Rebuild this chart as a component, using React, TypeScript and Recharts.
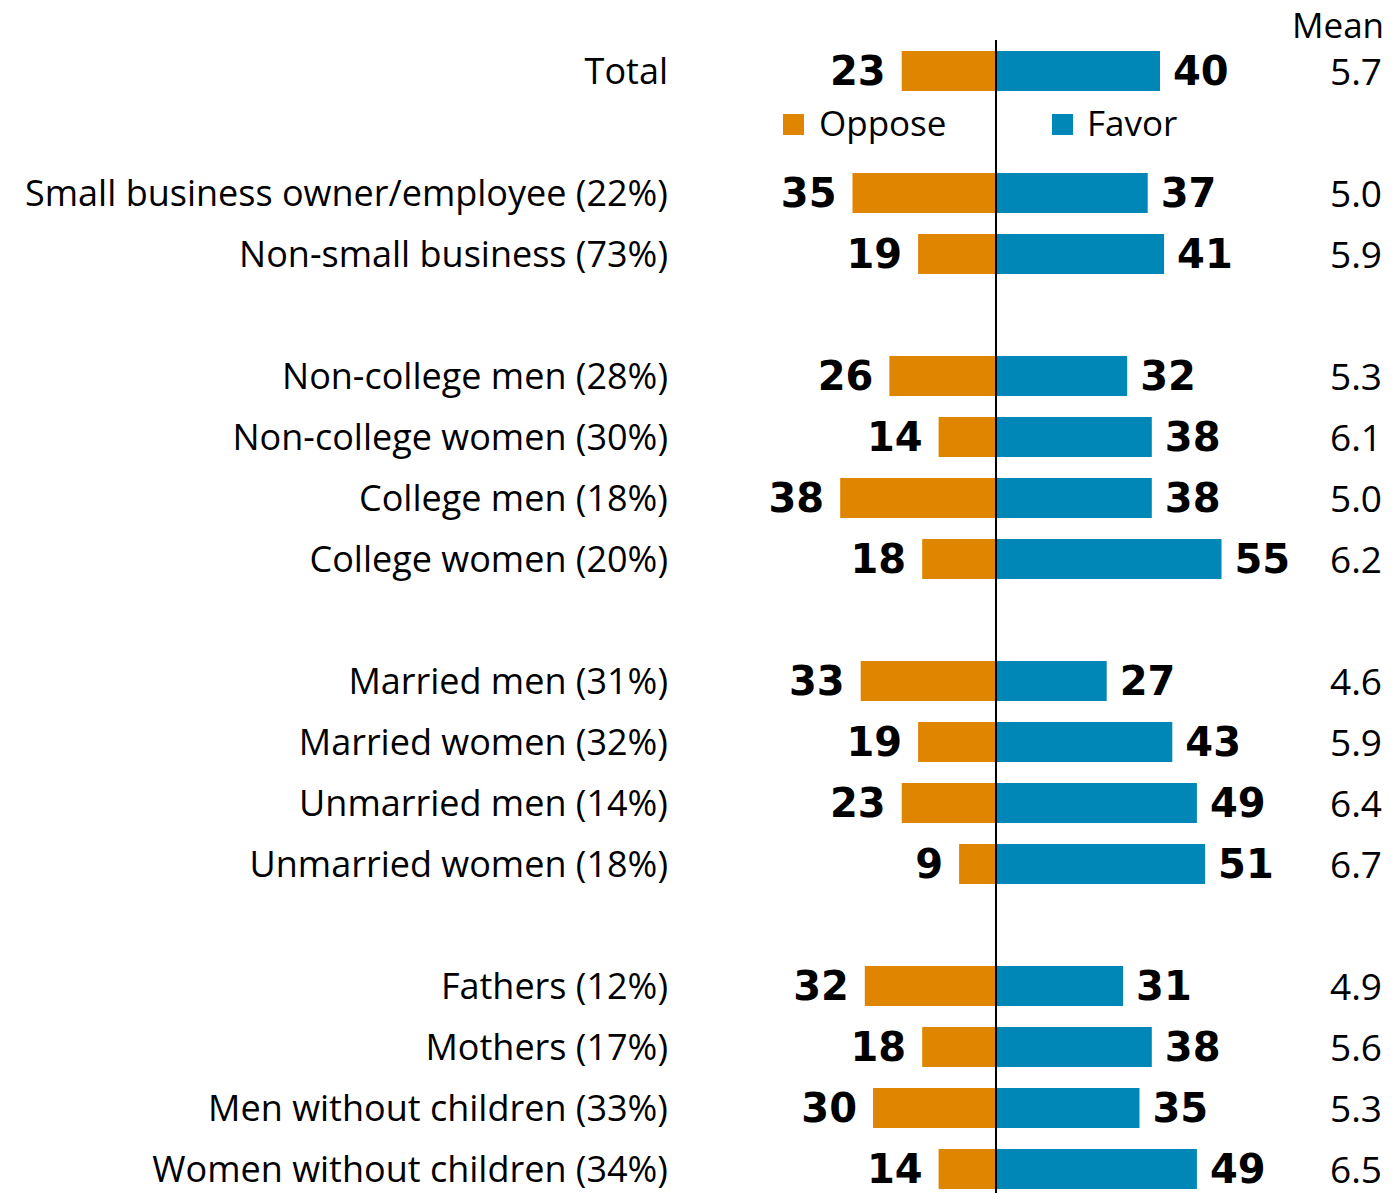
import React from "react";
import {
  BarChart,
  Bar,
  XAxis,
  YAxis,
  ReferenceLine,
  LabelList,
  Legend,
} from "recharts";

// rows in display order; "" marks an empty spacer row
const labels = [
  "Total",
  "",
  "Small business owner/employee (22%)",
  "Non-small business (73%)",
  "",
  "Non-college men (28%)",
  "Non-college women (30%)",
  "College men (18%)",
  "College women (20%)",
  "",
  "Married men (31%)",
  "Married women (32%)",
  "Unmarried men (14%)",
  "Unmarried women (18%)",
  "",
  "Fathers (12%)",
  "Mothers (17%)",
  "Men without children (33%)",
  "Women without children (34%)",
];

const oppose = [23, null, 35, 19, null, 26, 14, 38, 18, null, 33, 19, 23, 9, null, 32, 18, 30, 14];
const favor = [40, null, 37, 41, null, 32, 38, 38, 55, null, 27, 43, 49, 51, null, 31, 38, 35, 49];
const means = ["5.7", "", "5.0", "5.9", "", "5.3", "6.1", "5.0", "6.2", "", "4.6", "5.9", "6.4", "6.7", "", "4.9", "5.6", "5.3", "6.5"];

const ORANGE = "#DF8500";
const BLUE = "#0086B7";
const FONT = "'Open Sans', Lato, sans-serif";
const NUM_FONT = "'DejaVu Sans', 'Open Sans', sans-serif";

const rows = labels.map((label, i) => ({
  id: `r${i}`,
  label,
  mean: means[i],
  oppose: oppose[i] == null ? null : -(oppose[i] as number),
  favor: favor[i],
}));

const byId: Record<string, (typeof rows)[number]> = {};
rows.forEach((r) => (byId[r.id] = r));

const LeftTick = (props: any) => {
  const { x, y, payload } = props;
  const row = byId[payload.value];
  if (!row || !row.label) return null;
  return (
    <text x={x} y={y} dy={13} textAnchor="end" fontSize={36} fontFamily={FONT} fill="#000">
      {row.label}
    </text>
  );
};

const RightTick = (props: any) => {
  const { x, y, payload } = props;
  const row = byId[payload.value];
  if (!row || !row.mean) return null;
  return (
    <text x={Number(x) + 73} y={y} dy={14} textAnchor="middle" fontSize={37} fontFamily={FONT} fill="#000">
      {row.mean}
    </text>
  );
};

const valueLabel = (side: "left" | "right") => (props: any) => {
  const { x, y, width, height, value } = props;
  if (value == null) return null;
  const x0 = Number(x);
  const w = Number(width);
  const lo = Math.min(x0, x0 + w);
  const hi = Math.max(x0, x0 + w);
  const tx = side === "left" ? lo - 16 : hi + 13;
  return (
    <text
      x={tx}
      y={Number(y) + Number(height) / 2}
      dy={14}
      textAnchor={side === "left" ? "end" : "start"}
      fontSize={40}
      fontWeight={700}
      fontFamily={NUM_FONT}
      fill="#000"
    >
      {Math.abs(value)}
    </text>
  );
};

const LegendContent = () => (
  <div style={{ position: "relative", width: 420, height: 40, fontFamily: FONT, fontSize: 35 }}>
    <div style={{ position: "absolute", left: 0, top: 9, width: 21, height: 21, background: ORANGE }} />
    <div style={{ position: "absolute", left: 36, top: -3, lineHeight: "42px" }}>Oppose</div>
    <div style={{ position: "absolute", left: 269, top: 9, width: 21, height: 21, background: BLUE }} />
    <div style={{ position: "absolute", left: 304, top: -3, lineHeight: "42px" }}>Favor</div>
  </div>
);

export default function App() {
  return (
    <div style={{ position: "absolute", left: 0, top: 0, width: 1394, height: 1193, overflow: "hidden", background: "#fff" }}>
      <BarChart
        width={1394}
        height={1241}
        data={rows}
        layout="vertical"
        stackOffset="sign"
        margin={{ top: 40, right: 0, bottom: 2, left: 0 }}
        barSize={40}
      >
        <XAxis type="number" domain={[-70, 70]} hide />
        <YAxis
          yAxisId="left"
          type="category"
          dataKey="id"
          width={709}
          axisLine={false}
          tickLine={false}
          tickSize={0}
          tickMargin={41}
          tick={<LeftTick />}
          interval={0}
        />
        <YAxis
          yAxisId="right"
          orientation="right"
          type="category"
          dataKey="id"
          width={111}
          axisLine={false}
          tickLine={false}
          tickSize={0}
          tickMargin={0}
          tick={<RightTick />}
          interval={0}
        />
        <Legend
          content={<LegendContent />}
          wrapperStyle={{ position: "absolute", top: 105, left: 783, width: 420 }}
        />
        <Bar yAxisId="left" dataKey="oppose" stackId="a" fill={ORANGE} isAnimationActive={false} name="Oppose">
          <LabelList dataKey="oppose" content={valueLabel("left")} />
        </Bar>
        <Bar yAxisId="left" dataKey="favor" stackId="a" fill={BLUE} isAnimationActive={false} name="Favor">
          <LabelList dataKey="favor" content={valueLabel("right")} />
        </Bar>
        <ReferenceLine yAxisId="left" x={0} stroke="#000" strokeWidth={2} />
      </BarChart>
      <svg style={{ position: "absolute", left: 0, top: 0 }} width={1394} height={50}>
        <text x={1292} y={38} fontSize={35} fontFamily={FONT} fill="#000">
          Mean
        </text>
      </svg>
    </div>
  );
}
